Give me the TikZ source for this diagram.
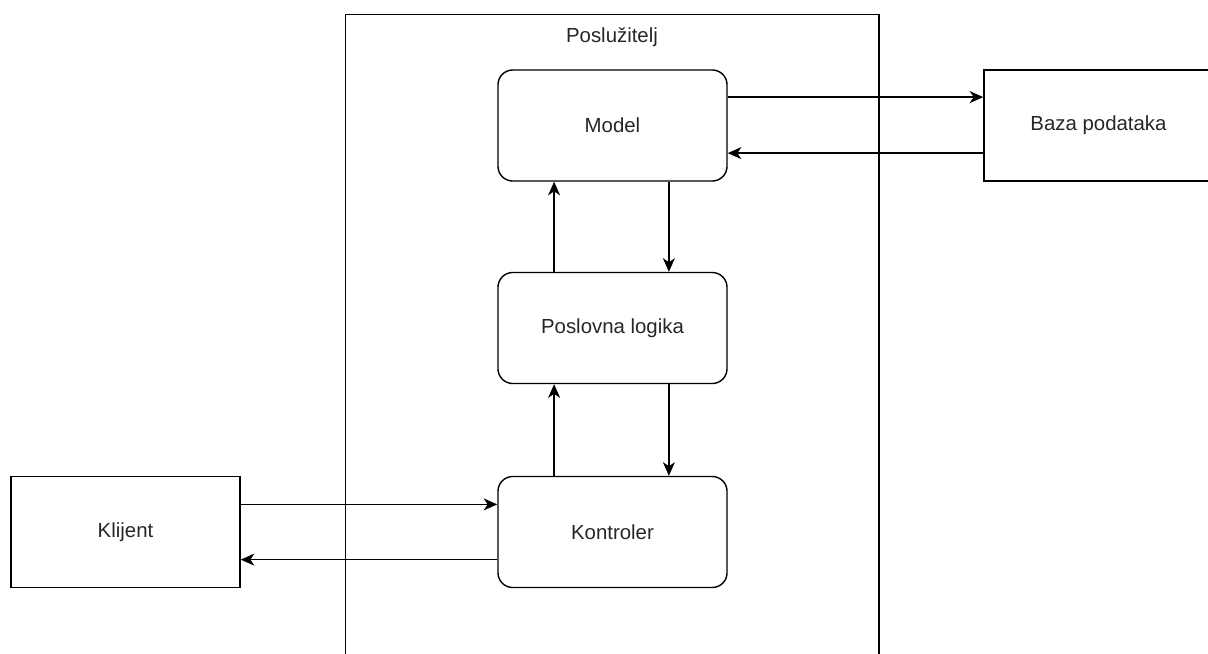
\documentclass[tikz,border=0pt]{standalone}
\usepackage{fontspec}
\setmainfont{Liberation Sans}
\usetikzlibrary{arrows.meta}
\begin{document}
\begin{tikzpicture}[x=0.025cm,y=-0.025cm,
	font=\fontsize{14.5}{17}\selectfont,
	every node/.style={text=black!85},
	blok/.style={draw=black,line width=1pt,minimum width=5.725cm,minimum height=2.775cm},
	sloj/.style={blok,rounded corners=0.37cm},
	arr/.style={draw=black,line width=1pt,-{Stealth[length=3.4mm,width=3mm,inset=1mm]}}]
	\useasboundingbox (0,0) rectangle (1208,653);
	\clip (0,0) rectangle (1208,653);
	%Posluzitelj
	\node (server) [draw=black,line width=1pt,anchor=north west,minimum width=13.325cm,minimum height=17cm] at (345,14) {};
	\node (serverlabel) at (612,37) {Poslužitelj};
	%Slojevi
	\node (model) [sloj] at (612.5,125.5) {Model};
	\node (logika) [sloj] at (612.5,328) {Poslovna logika};
	\node (kontroler) [sloj] at (612.5,532) {Kontroler};
	%Vanjski
	\node (baza) [blok] at (1098.5,125.5) {Baza podataka};
	\node (klijent) [blok] at (125.5,532) {Klijent};
	%Strelice
	\draw [arr] ([yshift=7.1mm]model.east) -- ([yshift=7.1mm]baza.west);
	\draw [arr] ([yshift=-6.9mm]baza.west) -- ([yshift=-6.9mm]model.east);
	\draw [arr] ([xshift=-14.6mm]logika.north) -- ([xshift=-14.6mm]model.south);
	\draw [arr] ([xshift=14.1mm]model.south) -- ([xshift=14.1mm]logika.north);
	\draw [arr] ([xshift=-14.6mm]kontroler.north) -- ([xshift=-14.6mm]logika.south);
	\draw [arr] ([xshift=14.1mm]logika.south) -- ([xshift=14.1mm]kontroler.north);
	\draw [arr] ([yshift=6.9mm]klijent.east) -- ([yshift=6.9mm]kontroler.west);
	\draw [arr] ([yshift=-6.9mm]kontroler.west) -- ([yshift=-6.9mm]klijent.east);
\end{tikzpicture}
\end{document}
